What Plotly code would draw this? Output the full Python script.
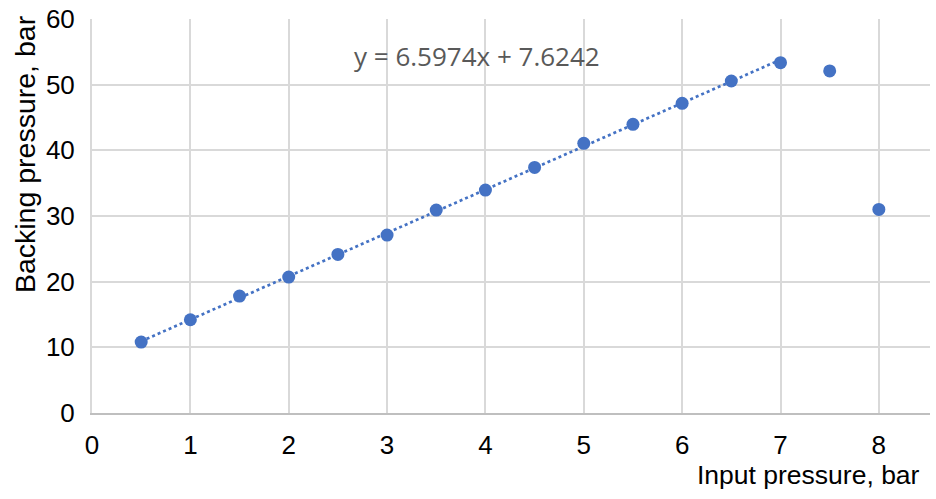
import plotly.graph_objects as go

input_pressure = [0.5, 1, 1.5, 2, 2.5, 3, 3.5, 4, 4.5, 5, 5.5, 6, 6.5, 7, 7.5, 8]
backing_pressure = [10.8, 14.2, 17.8, 20.7, 24.15, 27.1, 30.9, 33.95, 37.4, 41.07, 43.96, 47.16, 50.56, 53.35, 52.1, 31.0]

trend_slope = 6.5974
trend_intercept = 7.6242
trend_x = [0.5, 7]
trend_y = [trend_slope * x + trend_intercept for x in trend_x]
equation_text = "y = 6.5974x + 7.6242"

x_ticks = [0, 1, 2, 3, 4, 5, 6, 7, 8]
y_ticks = [0, 10, 20, 30, 40, 50, 60]

blue = "#4472C4"
font_main = "Liberation Sans, Arial, sans-serif"

fig = go.Figure()
fig.add_trace(go.Scatter(x=trend_x, y=trend_y, mode="lines",
                         line=dict(color=blue, width=2.7, dash="dot"),
                         hoverinfo="skip", showlegend=False))
fig.add_trace(go.Scatter(x=input_pressure, y=backing_pressure, mode="markers",
                         marker=dict(color=blue, size=13, line=dict(width=0)),
                         showlegend=False))

fig.add_annotation(x=3.91, y=54.4, xref="x", yref="y", text=equation_text,
                   showarrow=False, font=dict(family="Open Sans, sans-serif", size=26, color="#595959"))
fig.add_annotation(x=0.991, y=-0.158, xref="paper", yref="paper", text="Input pressure, bar",
                   showarrow=False, xanchor="right", yanchor="middle",
                   font=dict(family=font_main, size=26.5, color="#000000"))
fig.add_annotation(x=-0.08, y=0.657, xref="paper", yref="paper", text="Backing pressure, bar",
                   showarrow=False, textangle=-90, xanchor="center", yanchor="middle",
                   font=dict(family=font_main, size=28.5, color="#000000"))

fig.update_layout(
    width=936, height=499,
    margin=dict(l=92, r=6, t=19, b=86),
    plot_bgcolor="white", paper_bgcolor="white",
    font=dict(family=font_main, size=26, color="#000000"),
    xaxis=dict(range=[0, 8.52], tickvals=x_ticks, ticktext=[str(v) for v in x_ticks],
               showgrid=True, gridcolor="#d9d9d9", gridwidth=2,
               showline=True, linecolor="#bfbfbf", linewidth=2,
               zeroline=False, ticks="", tickfont=dict(size=26), automargin=False,
               ticklabeloverflow="allow"),
    yaxis=dict(range=[0, 60], tickvals=y_ticks, ticktext=[str(v) for v in y_ticks],
               showgrid=True, gridcolor="#d9d9d9", gridwidth=2,
               showline=True, linecolor="#d9d9d9", linewidth=2, mirror=False,
               zeroline=False, ticks="", tickfont=dict(size=26), automargin=False,
               ticklabeloverflow="allow"),
)
fig.update_xaxes(ticklabelstandoff=8)
fig.update_yaxes(ticklabelstandoff=10)

fig.write_html("out.html",
               config={"displayModeBar": False},
               post_script="document.body.style.margin='0';document.body.style.overflow='hidden';")
